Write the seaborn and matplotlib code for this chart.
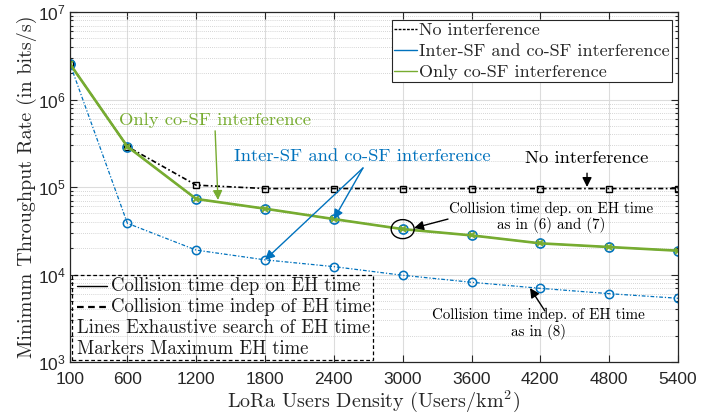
import matplotlib
matplotlib.use("Agg")
import matplotlib.pyplot as plt
import matplotlib.transforms as mtransforms
from matplotlib.patches import Ellipse, Rectangle
from matplotlib.lines import Line2D
from matplotlib.ticker import FixedLocator, LogLocator, NullFormatter, NullLocator
import pandas as pd
import seaborn as sns

# values
density = [100, 600, 1200, 1800, 2400, 3000, 3600, 4200, 4800, 5400]
no_interference = [2.55e6, 2.9e5, 1.05e5, 9.6e4, 9.6e4, 9.6e4, 9.6e4, 9.6e4, 9.6e4, 9.6e4]
inter_sf_dep = [2.55e6, 2.9e5, 7.3e4, 5.65e4, 4.3e4, 3.3e4, 2.8e4, 2.27e4, 2.06e4, 1.87e4]
co_sf_dep = [2.55e6, 2.9e5, 7.3e4, 5.65e4, 4.3e4, 3.3e4, 2.8e4, 2.27e4, 2.06e4, 1.87e4]
inter_sf_indep = [2.55e6, 3.85e4, 1.9e4, 1.47e4, 1.23e4, 9.8e3, 8.15e3, 6.95e3, 6.04e3, 5.35e3]

BLUE = "#0072BD"
GREEN = "#77AC30"
SERIF = ["cmr10", "DejaVu Serif"]
DASHDOT = (0, (3, 1.5, 1, 1.5))

sns.set_theme(style="ticks")
plt.rcParams["font.family"] = ["Liberation Sans", "DejaVu Sans"]
plt.rcParams["axes.unicode_minus"] = False

df = pd.DataFrame({
    "density": density,
    "no_interference": no_interference,
    "inter_sf_dep": inter_sf_dep,
    "co_sf_dep": co_sf_dep,
    "inter_sf_indep": inter_sf_indep,
})

fig = plt.figure(figsize=(7.2, 4.16), dpi=100)
ax = fig.add_axes([70 / 720, 1 - 362 / 416, 608 / 720, 350 / 416])

sns.lineplot(data=df, x="density", y="inter_sf_indep", ax=ax, color=BLUE, lw=0.9,
             linestyle=DASHDOT, marker="o", markersize=6, markerfacecolor="none",
             markeredgecolor=BLUE, markeredgewidth=1.1)
sns.lineplot(data=df, x="density", y="no_interference", ax=ax, color="black", lw=1.2,
             linestyle=DASHDOT, marker="s", markersize=5, markerfacecolor="none",
             markeredgecolor="black", markeredgewidth=1.0)
sns.lineplot(data=df, x="density", y="inter_sf_dep", ax=ax, color=BLUE, lw=1.0,
             marker="o", markersize=6.5, markerfacecolor="none",
             markeredgecolor=BLUE, markeredgewidth=1.2)
sns.lineplot(data=df, x="density", y="co_sf_dep", ax=ax, color=GREEN, lw=1.9,
             marker="x", markersize=5, markeredgecolor=GREEN, markeredgewidth=1.4)

ax.set_yscale("log")
ax.set_xlim(100, 5400)
ax.set_ylim(1e3, 1e7)
ax.xaxis.set_major_locator(FixedLocator(density))
ax.xaxis.set_minor_locator(NullLocator())
ax.yaxis.set_major_locator(LogLocator(base=10, numticks=10))
ax.yaxis.set_minor_locator(LogLocator(base=10, subs=range(2, 10), numticks=20))
ax.yaxis.set_minor_formatter(NullFormatter())
ax.tick_params(which="both", direction="in", top=True, right=True, labelsize=12.5,
               colors="#262626", width=0.8)
ax.tick_params(which="major", length=5)
ax.tick_params(which="minor", length=2.5)
ax.tick_params(axis="x", pad=7)
ax.tick_params(axis="y", pad=3)
for s in ax.spines.values():
    s.set_color("#262626")
    s.set_linewidth(0.9)

ax.grid(which="major", color="#dcdcdc", lw=0.8, ls="-")
ax.grid(which="minor", axis="y", color="#c8c8c8", lw=0.6, ls=(0, (1, 1.5)))
ax.set_axisbelow(True)

ax.set_xlabel(r"LoRa Users Density (Users/km$\mathregular{^2}$)", family=SERIF,
              fontsize=14.5, color="#262626", labelpad=1)
ax.set_ylabel("Minimum Throughput Rate (in bits/s)", family=SERIF, fontsize=14.5,
              color="#262626", labelpad=1)

# upper right legend
handles = [
    Line2D([], [], color="black", lw=1.0, ls=(0, (2, 1))),
    Line2D([], [], color=BLUE, lw=1.0),
    Line2D([], [], color=GREEN, lw=1.0),
]
labels = ["No interference", "Inter-SF and co-SF interference", "Only co-SF interference"]
leg = ax.legend(handles, labels, loc="upper right", bbox_to_anchor=(0.99, 0.976),
                prop={"family": SERIF, "size": 13.0}, frameon=True, fancybox=False,
                handlelength=1.3, handletextpad=0.1, borderpad=0.12, labelspacing=0.3,
                borderaxespad=0)
leg.get_frame().set_edgecolor("#262626")
leg.get_frame().set_linewidth(0.8)
leg.get_frame().set_alpha(1)

# lower left dashed box
tA = ax.transAxes
ax.add_patch(Rectangle((0.004, 0.006), 0.494, 0.243, transform=tA, fill=False,
                       ls=(0, (3, 2)), lw=0.9, ec="black", zorder=5))
ax.plot([0.012, 0.061], [0.217, 0.217], transform=tA, color="black", lw=1.0, zorder=5)
ax.plot([0.012, 0.061], [0.157, 0.157], transform=tA, color="black", lw=1.6,
        ls=(0, (3, 2)), zorder=5)
box_rows = [
    (0.068, 0.217, "Collision time dep on EH time"),
    (0.068, 0.157, "Collision time indep of EH time"),
    (0.012, 0.097, "Lines Exhaustive search of EH time"),
    (0.012, 0.037, "Markers Maximum EH time"),
]
for bx, by, txt in box_rows:
    ax.text(bx, by, txt, transform=tA, family=SERIF, fontsize=13.5, va="center",
            ha="left", color="#1a1a1a", zorder=5)

# annotations
arrow = dict(arrowstyle="-|>", lw=1.0, mutation_scale=14, shrinkA=0, shrinkB=0)
ax.annotate("Only co-SF interference", xy=(1390, 7.1e4), xytext=(1364, 5.84e5),
            ha="center", va="center", color=GREEN, family=SERIF, fontsize=13.4,
            arrowprops=dict(arrow, color=GREEN, relpos=(0.5, 0)))
ax.text(2650, 2.26e5, "Inter-SF and co-SF interference", ha="center", va="center",
        color=BLUE, family=SERIF, fontsize=13.4)
for tx, ty in [(density[4], inter_sf_dep[4]), (density[3], inter_sf_indep[3])]:
    ax.annotate("", xy=(tx, ty), xytext=(2654, 1.65e5),
                arrowprops=dict(arrow, color=BLUE))
ax.annotate("No interference", xy=(4607, 1.0e5), xytext=(4607, 2.14e5),
            ha="center", va="center", color="black", family=SERIF, fontsize=13.4,
            arrowprops=dict(arrow, color="black", relpos=(0.5, 0), shrinkA=3))
ax.text(4293, 4.54e4, "Collision time dep. on EH time\nas in (6) and (7)", ha="center",
        va="center", family=SERIF, fontsize=10.8, color="black", linespacing=1.1)
ax.annotate("", xy=(3099, 3.4e4), xytext=(3395, 4.3e4),
            arrowprops=dict(arrow, color="black"))
ax.text(4180, 2.72e3, "Collision time indep. of EH time\nas in (8)", ha="center",
        va="center", family=SERIF, fontsize=10.8, color="black", linespacing=1.1)
ax.annotate("", xy=(4110, 7.0e3), xytext=(4240, 3.83e3),
            arrowprops=dict(arrow, color="black"))

# ellipse around the 3000 users/km2 point
etrans = fig.dpi_scale_trans + mtransforms.ScaledTranslation(
    density[5], co_sf_dep[5], ax.transData)
ax.add_patch(Ellipse((0, 0), 0.23, 0.19, transform=etrans, fill=False, ec="black",
                     lw=1.0, zorder=6))

fig.savefig("out.png", dpi=100)
